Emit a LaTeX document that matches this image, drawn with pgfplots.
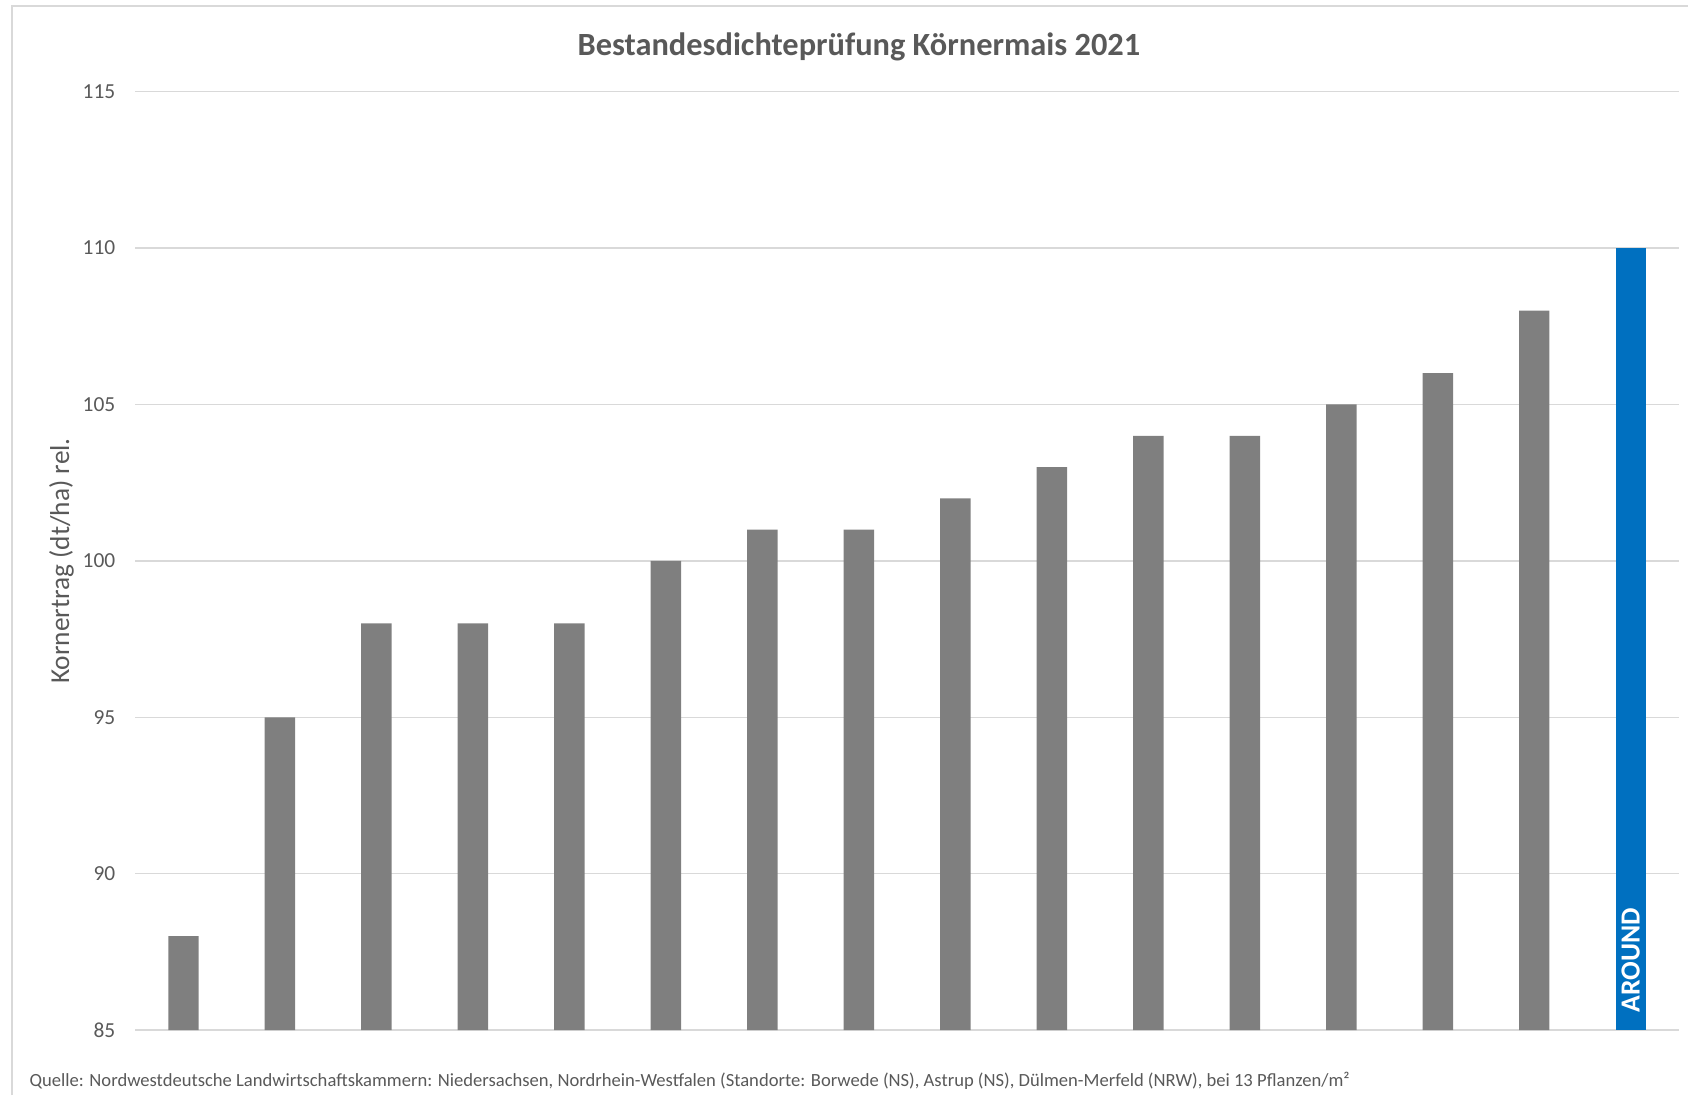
\documentclass[border=0pt]{standalone}
\usepackage{fontspec}
\setmainfont{Carlito}
\usepackage{pgfplots}
\pgfplotsset{compat=1.18}

\definecolor{barGray}{HTML}{7F7F7F}
\definecolor{barBlue}{HTML}{0070C0}
\definecolor{gridGray}{HTML}{D9D9D9}
\definecolor{textGray}{HTML}{595959}

\begin{document}
\begin{tikzpicture}
% chart frame and bounding box (1 px of the reference = 0.355pt)
\useasboundingbox (-48.0pt,-23.1pt) rectangle (551.2pt,365.65pt);
\draw[gridGray, line width=0.7pt] (-43.7pt,-23.1pt) -- (-43.7pt,363.5pt) -- (551.2pt,363.5pt);

\begin{axis}[
    at={(0pt,0pt)}, anchor=south west,
    scale only axis,
    width=548pt, height=333.1pt,
    xmin=-0.5, xmax=15.5,
    ymin=85, ymax=115,
    ytick={85,90,...,115},
    xtick=\empty,
    axis line style={draw=none},
    ymajorgrids,
    grid style={gridGray, line width=0.55pt},
    major tick length=0pt,
    yticklabel style={font=\fontsize{7.6}{8}\selectfont, text=textGray, inner sep=0pt, xshift=-6.9pt},
    /pgf/number format/assume math mode=true,
    ybar, bar width=10.8pt,
]
\addplot[fill=barGray, draw=none, bar shift=0pt] coordinates {
    (0,88) (1,95) (2,98) (3,98) (4,98) (5,100) (6,101) (7,101)
    (8,102) (9,103) (10,104) (11,104) (12,105) (13,106) (14,108)
};
\addplot[fill=barBlue, draw=none, bar shift=0pt] coordinates {
    (15,110)
};
\node[rotate=90, anchor=west, text=white, font=\fontsize{9.8}{10}\selectfont\bfseries, inner sep=0pt]
    at (axis cs:15,85.55) {AROUND};
\end{axis}

\node[text=textGray, font=\fontsize{11.5}{13}\selectfont\bfseries] at (256.9pt,348.9pt)
    {Bestandesdichteprüfung Körnermais 2021};
\node[rotate=90, text=textGray, font=\fontsize{9.7}{11}\selectfont] at (-26.2pt,166.5pt)
    {Kornertrag (dt/ha) rel.};
\node[anchor=west, text=textGray, font=\fontsize{6.6}{8}\selectfont, inner sep=0pt] at (-37.7pt,-18.0pt)
    {Quelle: Nordwestdeutsche Landwirtschaftskammern: Niedersachsen, Nordrhein-Westfalen (Standorte: Borwede (NS), Astrup (NS), Dülmen-Merfeld (NRW), bei 13 Pflanzen/m²};
\end{tikzpicture}
\end{document}
